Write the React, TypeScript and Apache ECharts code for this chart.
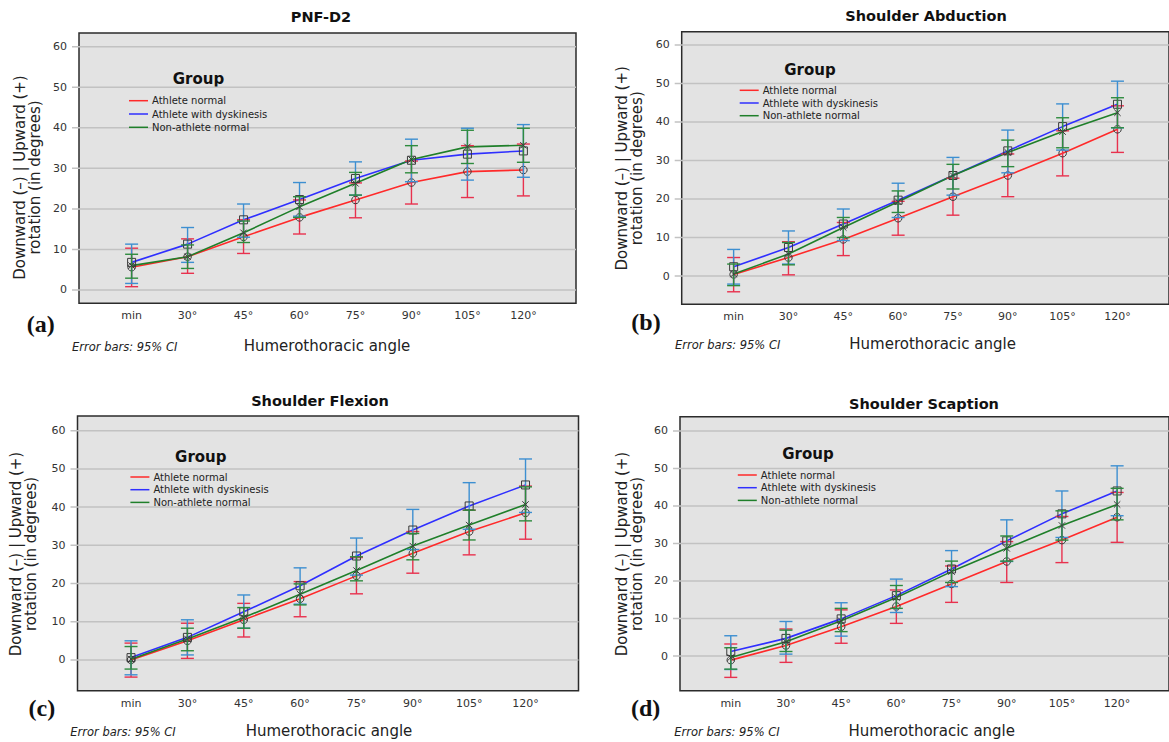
import React, { useEffect, useRef } from 'react';
import * as echarts from 'echarts';

// ---------- data ----------
const categories = ['min', '30°', '45°', '60°', '75°', '90°', '105°', '120°'];
const groups = ['Athlete normal', 'Athlete with dyskinesis', 'Non-athlete normal'];
const yTicks = [0, 10, 20, 30, 40, 50, 60];
const xTicks = [0, 1, 2, 3, 4, 5, 6, 7];

// (a) PNF-D2
const pnfNormalMean = [5.6, 8.2, 13.1, 17.9, 22.2, 26.5, 29.2, 29.6];
const pnfNormalLow = [0.8, 4.1, 9.0, 13.8, 17.8, 21.2, 22.8, 23.2];
const pnfNormalHigh = [10.3, 12.6, 17.3, 22.2, 26.4, 31.8, 35.6, 36.0];
const pnfDyskMean = [6.8, 11.3, 17.3, 22.3, 27.5, 32.0, 33.5, 34.3];
const pnfDyskLow = [1.6, 6.8, 13.0, 18.2, 23.4, 26.7, 27.1, 27.8];
const pnfDyskHigh = [11.3, 15.4, 21.2, 26.5, 31.6, 37.2, 39.9, 40.8];
const pnfNonMean = [6.0, 8.2, 14.1, 20.5, 26.3, 32.2, 35.3, 35.7];
const pnfNonLow = [2.9, 5.3, 11.7, 17.9, 23.4, 28.9, 31.2, 31.5];
const pnfNonHigh = [8.8, 11.1, 17.0, 23.0, 29.0, 35.6, 39.4, 39.9];

// (b) Shoulder Abduction
const abdNormalMean = [0.4, 4.8, 9.5, 15.0, 20.6, 26.1, 31.9, 38.1];
const abdNormalLow = [-4.1, 0.3, 5.3, 10.6, 15.8, 20.6, 26.0, 32.1];
const abdNormalHigh = [4.8, 8.9, 13.9, 19.4, 25.4, 31.7, 37.7, 44.2];
const abdDyskMean = [2.4, 7.4, 13.5, 19.7, 26.1, 32.5, 38.8, 44.6];
const abdDyskLow = [-2.1, 3.1, 9.2, 15.2, 21.0, 26.8, 32.7, 38.5];
const abdDyskHigh = [6.9, 11.7, 17.4, 24.1, 30.8, 37.9, 44.7, 50.6];
const abdNonMean = [0.5, 5.7, 12.6, 19.3, 26.1, 32.1, 37.5, 42.4];
const abdNonLow = [-2.5, 2.9, 10.0, 16.5, 22.6, 28.4, 33.3, 38.5];
const abdNonHigh = [3.1, 8.7, 15.2, 22.1, 29.0, 35.3, 41.1, 46.3];

// (c) Shoulder Flexion
const flxNormalMean = [0.0, 5.0, 10.5, 16.0, 22.0, 27.9, 33.6, 38.5];
const flxNormalLow = [-4.5, 0.4, 6.0, 11.3, 17.3, 22.7, 27.5, 31.6];
const flxNormalHigh = [4.4, 9.6, 14.8, 20.5, 26.8, 33.6, 39.2, 45.5];
const flxDyskMean = [0.6, 5.9, 12.6, 19.4, 27.2, 34.0, 40.3, 45.8];
const flxDyskLow = [-3.9, 1.3, 8.3, 14.6, 22.2, 28.9, 34.2, 38.6];
const flxDyskHigh = [5.0, 10.5, 17.0, 24.1, 31.9, 39.4, 46.4, 52.6];
const flxNonMean = [0.2, 5.5, 11.1, 17.2, 23.4, 29.8, 35.3, 40.7];
const flxNonLow = [-2.4, 2.4, 8.3, 14.4, 20.7, 26.2, 31.4, 36.4];
const flxNonHigh = [3.5, 8.3, 13.7, 19.9, 27.0, 33.1, 39.2, 45.3];

// (d) Shoulder Scaption
const scpNormalMean = [-1.1, 2.8, 7.8, 13.2, 19.2, 25.2, 30.9, 37.0];
const scpNormalLow = [-5.7, -1.7, 3.4, 8.7, 14.3, 19.6, 24.9, 30.3];
const scpNormalHigh = [3.2, 7.2, 12.3, 17.6, 24.0, 30.5, 37.2, 43.6];
const scpDyskMean = [1.2, 4.7, 9.9, 16.1, 23.2, 30.7, 37.9, 44.0];
const scpDyskLow = [-3.6, 0.5, 5.3, 11.6, 18.5, 25.2, 31.6, 37.4];
const scpDyskHigh = [5.4, 9.2, 14.2, 20.5, 28.1, 36.3, 44.0, 50.7];
const scpNonMean = [-0.4, 3.8, 9.4, 15.6, 22.5, 28.7, 34.8, 40.4];
const scpNonLow = [-3.5, 1.2, 6.5, 12.7, 19.6, 25.3, 30.9, 36.3];
const scpNonHigh = [2.2, 6.9, 12.7, 18.8, 25.3, 32.0, 38.7, 44.7];

const panelTitles = ['PNF-D2', 'Shoulder Abduction', 'Shoulder Flexion', 'Shoulder Scaption'];
const panelLetters = ['(a)', '(b)', '(c)', '(d)'];
const xTitle = 'Humerothoracic angle';
const errorNote = 'Error bars: 95% CI';
const yTitle = 'Downward (–) | Upward (+)\nrotation (in degrees)';
const legendTitle = 'Group';

const panelData = [
  [
    [pnfNormalMean, pnfNormalLow, pnfNormalHigh],
    [pnfDyskMean, pnfDyskLow, pnfDyskHigh],
    [pnfNonMean, pnfNonLow, pnfNonHigh],
  ],
  [
    [abdNormalMean, abdNormalLow, abdNormalHigh],
    [abdDyskMean, abdDyskLow, abdDyskHigh],
    [abdNonMean, abdNonLow, abdNonHigh],
  ],
  [
    [flxNormalMean, flxNormalLow, flxNormalHigh],
    [flxDyskMean, flxDyskLow, flxDyskHigh],
    [flxNonMean, flxNonLow, flxNonHigh],
  ],
  [
    [scpNormalMean, scpNormalLow, scpNormalHigh],
    [scpDyskMean, scpDyskLow, scpDyskHigh],
    [scpNonMean, scpNonLow, scpNonHigh],
  ],
];

// ---------- styles / layout ----------
const lineColors = ['#ff2a2a', '#2f2fff', '#1f7f2a'];
const errColors = ['#e8314e', '#3d8fd1', '#2e8b3e'];
const markerShapes = ['circle', 'square', 'cross'];
const markerColor = '#3a3a3a';

const layouts = [
  { left: 79, top: 33, width: 497, height: 270.3, xMin: -0.94, xMax: 7.94, yMin: -3.3, yMax: 63.4,
    title: [321, 17], yT: [27, 177.5], grp: [198.5, 79], leg: [129, 94.7], legGap: 1.3,
    letter: [26.7, 324], note: [72, 346.7], xt: [327, 345.7] },
  { left: 681.7, top: 31.7, width: 494, height: 272.6, xMin: -0.947, xMax: 7.94, yMin: -7.35, yMax: 63.45,
    title: [926, 16], yT: [629.5, 168.3], grp: [810, 70], leg: [739.7, 84.3], legGap: 0.7,
    letter: [631.3, 321.7], note: [675, 345], xt: [932.6, 344] },
  { left: 77.5, top: 416, width: 501, height: 274.7, xMin: -0.95, xMax: 7.94, yMin: -8.06, yMax: 63.85,
    title: [320, 401], yT: [23, 554], grp: [200.8, 456.7], leg: [130.4, 471], legGap: 0.7,
    letter: [28.5, 708], note: [70.3, 731.7], xt: [329, 730.7] },
  { left: 680, top: 416.7, width: 498, height: 274, xMin: -0.92, xMax: 7.94, yMin: -9.25, yMax: 63.8,
    title: [924, 404], yT: [629.5, 554], grp: [808, 454], leg: [737.8, 469], legGap: 0.7,
    letter: [631, 708.3], note: [674.3, 731.7], xt: [931.7, 730.7] },
];

const baseFont = 'DejaVu Sans, Verdana, sans-serif';

function buildOption() {
  const grid: any[] = [];
  const xAxis: any[] = [];
  const yAxis: any[] = [];
  const series: any[] = [];
  const legend: any[] = [];
  const graphic: any[] = [];

  layouts.forEach((L, p) => {
    grid.push({
      left: L.left, top: L.top, width: L.width, height: L.height,
      show: true, backgroundColor: '#e3e3e3', borderColor: '#2b2b2b', borderWidth: 1.5,
      containLabel: false,
    });
    xAxis.push({
      type: 'value', gridIndex: p, min: L.xMin, max: L.xMax,
      axisLine: { show: false }, axisTick: { show: false }, splitLine: { show: false },
      axisLabel: {
        customValues: xTicks, margin: 7, fontSize: 11, color: '#333', fontFamily: baseFont,
        formatter: (v: number) => categories[Math.round(v)] ?? '',
      },
    });
    yAxis.push({
      type: 'value', gridIndex: p, min: L.yMin, max: L.yMax,
      axisLine: { show: false }, axisTick: { show: false }, splitLine: { show: false },
      axisLabel: {
        customValues: yTicks, margin: 12, fontSize: 11, color: '#333', fontFamily: baseFont,
        formatter: (v: number) => String(v),
      },
    });

    // gridlines (with small outward tick extension)
    series.push({
      type: 'custom', xAxisIndex: p, yAxisIndex: p, z: 1, silent: true,
      data: yTicks.map((v) => [0, v]),
      encode: { x: 0, y: 1 },
      renderItem: (params: any, api: any) => {
        const cs = params.coordSys;
        const y = api.coord([0, api.value(1)])[1];
        return {
          type: 'line',
          shape: { x1: cs.x - 7, y1: y, x2: cs.x + cs.width, y2: y },
          style: { stroke: '#c2c2c2', lineWidth: 1.5 },
        };
      },
    });

    panelData[p].forEach((g, gi) => {
      const [mean, low, high] = g;
      series.push({
        type: 'line', name: groups[gi], xAxisIndex: p, yAxisIndex: p, z: 3,
        data: mean.map((v, i) => [i, v]),
        symbol: 'none',
        itemStyle: { color: lineColors[gi] },
        lineStyle: { color: lineColors[gi], width: 1.6 },
        silent: true,
      });
      series.push({
        type: 'custom', name: groups[gi], xAxisIndex: p, yAxisIndex: p, z: 4, silent: true,
        data: mean.map((v, i) => [i, v, low[i], high[i]]),
        encode: { x: 0, y: [1, 2, 3] },
        itemStyle: { color: lineColors[gi] },
        renderItem: (params: any, api: any) => {
          const x = api.value(0);
          const m = api.coord([x, api.value(1)]);
          const lo = api.coord([x, api.value(2)]);
          const hi = api.coord([x, api.value(3)]);
          const cw = 6.5;
          const es = { stroke: errColors[gi], lineWidth: 1.4 };
          const ms = { stroke: markerColor, lineWidth: 1, fill: 'transparent' };
          const children: any[] = [
            { type: 'line', shape: { x1: lo[0], y1: lo[1], x2: hi[0], y2: hi[1] }, style: es },
            { type: 'line', shape: { x1: lo[0] - cw, y1: lo[1], x2: lo[0] + cw, y2: lo[1] }, style: es },
            { type: 'line', shape: { x1: hi[0] - cw, y1: hi[1], x2: hi[0] + cw, y2: hi[1] }, style: es },
          ];
          const shape = markerShapes[gi];
          if (shape === 'circle') {
            children.push({ type: 'circle', shape: { cx: m[0], cy: m[1], r: 3.8 }, style: ms });
          } else if (shape === 'square') {
            children.push({ type: 'rect', shape: { x: m[0] - 4, y: m[1] - 4, width: 8, height: 8 }, style: ms });
          } else {
            const d = 3.2;
            children.push({ type: 'line', shape: { x1: m[0] - d, y1: m[1] - d, x2: m[0] + d, y2: m[1] + d }, style: ms });
            children.push({ type: 'line', shape: { x1: m[0] - d, y1: m[1] + d, x2: m[0] + d, y2: m[1] - d }, style: ms });
          }
          return { type: 'group', children };
        },
      });
    });

    legend.push({
      orient: 'vertical', left: L.leg[0], top: L.leg[1],
      data: groups.map((name, gi) => ({ name, itemStyle: { color: lineColors[gi] } })),
      icon: 'rect', itemWidth: 19, itemHeight: 1.5, itemGap: L.legGap,
      padding: 0, selectedMode: false,
      textStyle: { fontSize: 10, color: '#222', fontFamily: baseFont, lineHeight: 12, padding: [0, 0, 0, -1] },
    });

    graphic.push(
      { type: 'text', x: L.title[0], y: L.title[1], style: { text: panelTitles[p], font: `bold 14.5px ${baseFont}`, fill: '#111', align: 'center', verticalAlign: 'middle' } },
      { type: 'text', x: L.grp[0], y: L.grp[1], style: { text: legendTitle, font: `bold 15px ${baseFont}`, fill: '#111', align: 'center', verticalAlign: 'middle' } },
      { type: 'text', x: L.yT[0], y: L.yT[1], rotation: Math.PI / 2, style: { text: yTitle, font: `15px ${baseFont}`, lineHeight: 15, fill: '#222', align: 'center', verticalAlign: 'middle' } },
      { type: 'text', x: L.letter[0], y: L.letter[1], style: { text: panelLetters[p], font: `bold 24px "Liberation Serif", "Times New Roman", serif`, fill: '#111', align: 'left', verticalAlign: 'middle' } },
      { type: 'text', x: L.note[0], y: L.note[1], style: { text: errorNote, font: `italic 11.5px ${baseFont}`, fill: '#222', align: 'left', verticalAlign: 'middle' } },
      { type: 'text', x: L.xt[0], y: L.xt[1], style: { text: xTitle, font: `15px ${baseFont}`, fill: '#222', align: 'center', verticalAlign: 'middle' } },
    );
  });

  return {
    animation: false,
    backgroundColor: '#ffffff',
    grid, xAxis, yAxis, series, legend, graphic,
  };
}

export default function App() {
  const ref = useRef<HTMLDivElement>(null);
  useEffect(() => {
    if (!ref.current) return;
    const chart = echarts.init(ref.current, null, { renderer: 'svg' });
    chart.setOption(buildOption() as any);
    return () => chart.dispose();
  }, []);
  return (
    <div
      ref={ref}
      style={{ position: 'fixed', left: 0, top: 0, width: 1169, height: 742, background: '#fff' }}
    />
  );
}
